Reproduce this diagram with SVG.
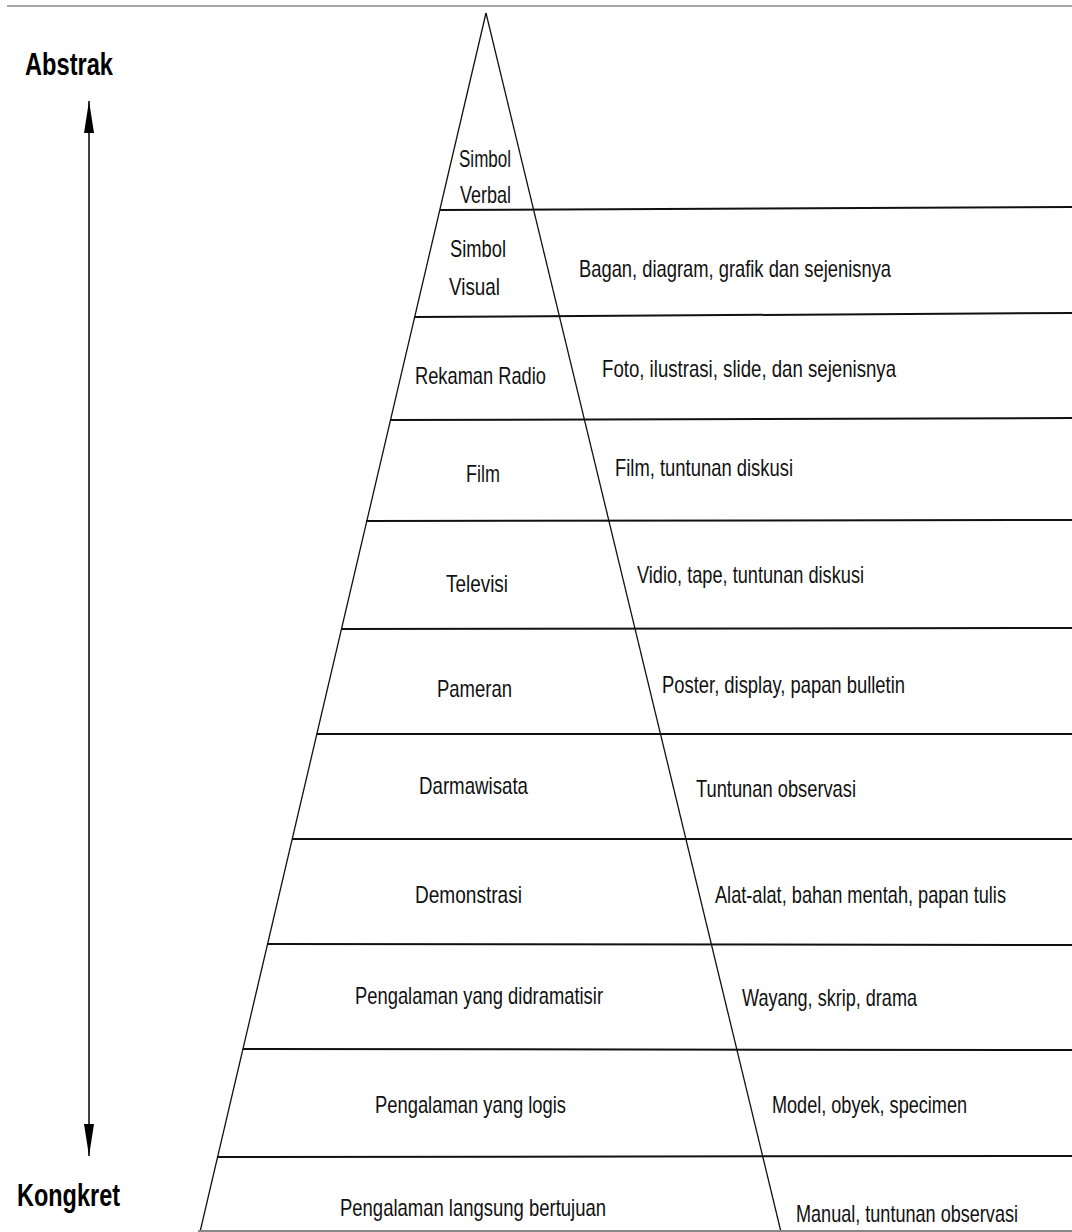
<svg xmlns="http://www.w3.org/2000/svg" width="1072" height="1232" viewBox="0 0 1072 1232">
<style>
  .lbl { font-family: "Liberation Sans", Arial, sans-serif; font-size: 24px; fill: #111; }
  .big { font-family: "Liberation Sans", Arial, sans-serif; font-size: 31px; font-weight: bold; fill: #000; }
  .edge { stroke: #111; stroke-width: 1.3; fill: none; }
  .sep { stroke: #111; stroke-width: 2; fill: none; }
</style>
<defs>
  <marker id="ah" viewBox="0 0 32 10" refX="32" refY="5" markerWidth="32" markerHeight="10" markerUnits="userSpaceOnUse" orient="auto">
    <path d="M0,0 L32,5 L0,10 Z" fill="#000"/>
  </marker>
</defs>
<rect x="0" y="0" width="1072" height="1232" fill="#fff"/>
<line x1="7" y1="6" x2="1072" y2="6" stroke="#a8a8a8" stroke-width="2"/>

<g id="pyramid">
  <line class="edge" x1="486" y1="13" x2="200" y2="1232"/>
  <line class="edge" x1="486" y1="13" x2="781" y2="1232"/>
  <line x1="198" y1="1231" x2="1072" y2="1231" stroke="#888" stroke-width="2"/>
</g>

<g id="level-simbol-verbal">
  <text class="lbl" x="459" y="167" textLength="52" lengthAdjust="spacingAndGlyphs">Simbol</text>
  <text class="lbl" x="460" y="203" textLength="51" lengthAdjust="spacingAndGlyphs">Verbal</text>
  <line class="sep" x1="440" y1="210" x2="1072" y2="207"/>
</g>
<g id="level-simbol-visual">
  <text class="lbl" x="450" y="257" textLength="56" lengthAdjust="spacingAndGlyphs">Simbol</text>
  <text class="lbl" x="449" y="295" textLength="51" lengthAdjust="spacingAndGlyphs">Visual</text>
  <text class="lbl" x="579" y="277" textLength="312" lengthAdjust="spacingAndGlyphs">Bagan, diagram, grafik dan sejenisnya</text>
  <line class="sep" x1="414" y1="317" x2="1072" y2="313"/>
</g>
<g id="level-rekaman-radio">
  <text class="lbl" x="415" y="384" textLength="131" lengthAdjust="spacingAndGlyphs">Rekaman Radio</text>
  <text class="lbl" x="602" y="377" textLength="294" lengthAdjust="spacingAndGlyphs">Foto, ilustrasi, slide, dan sejenisnya</text>
  <line class="sep" x1="390" y1="420" x2="1072" y2="418"/>
</g>
<g id="level-film">
  <text class="lbl" x="466" y="482" textLength="34" lengthAdjust="spacingAndGlyphs">Film</text>
  <text class="lbl" x="615" y="476" textLength="178" lengthAdjust="spacingAndGlyphs">Film, tuntunan diskusi</text>
  <line class="sep" x1="366" y1="521" x2="1072" y2="520"/>
</g>
<g id="level-televisi">
  <text class="lbl" x="446" y="592" textLength="62" lengthAdjust="spacingAndGlyphs">Televisi</text>
  <text class="lbl" x="637" y="583" textLength="227" lengthAdjust="spacingAndGlyphs">Vidio, tape, tuntunan diskusi</text>
  <line class="sep" x1="341" y1="629" x2="1072" y2="628"/>
</g>
<g id="level-pameran">
  <text class="lbl" x="437" y="697" textLength="75" lengthAdjust="spacingAndGlyphs">Pameran</text>
  <text class="lbl" x="662" y="693" textLength="243" lengthAdjust="spacingAndGlyphs">Poster, display, papan bulletin</text>
  <line class="sep" x1="317" y1="734" x2="1072" y2="734"/>
</g>
<g id="level-darmawisata">
  <text class="lbl" x="419" y="794" textLength="109" lengthAdjust="spacingAndGlyphs">Darmawisata</text>
  <text class="lbl" x="696" y="797" textLength="160" lengthAdjust="spacingAndGlyphs">Tuntunan observasi</text>
  <line class="sep" x1="292" y1="839" x2="1072" y2="839"/>
</g>
<g id="level-demonstrasi">
  <text class="lbl" x="415" y="903" textLength="107" lengthAdjust="spacingAndGlyphs">Demonstrasi</text>
  <text class="lbl" x="715" y="903" textLength="291" lengthAdjust="spacingAndGlyphs">Alat-alat, bahan mentah, papan tulis</text>
  <line class="sep" x1="267" y1="944" x2="1072" y2="945"/>
</g>
<g id="level-didramatisir">
  <text class="lbl" x="355" y="1004" textLength="248" lengthAdjust="spacingAndGlyphs">Pengalaman yang didramatisir</text>
  <text class="lbl" x="742" y="1006" textLength="175" lengthAdjust="spacingAndGlyphs">Wayang, skrip, drama</text>
  <line class="sep" x1="243" y1="1049" x2="1072" y2="1050"/>
</g>
<g id="level-logis">
  <text class="lbl" x="375" y="1113" textLength="191" lengthAdjust="spacingAndGlyphs">Pengalaman yang logis</text>
  <text class="lbl" x="772" y="1113" textLength="195" lengthAdjust="spacingAndGlyphs">Model, obyek, specimen</text>
  <line class="sep" x1="217" y1="1157" x2="1072" y2="1156"/>
</g>
<g id="level-langsung">
  <text class="lbl" x="340" y="1216" textLength="266" lengthAdjust="spacingAndGlyphs">Pengalaman langsung bertujuan</text>
  <text class="lbl" x="796" y="1222" textLength="222" lengthAdjust="spacingAndGlyphs">Manual, tuntunan observasi</text>
</g>

<g id="label-abstrak">
  <text class="big" x="25" y="75" textLength="88" lengthAdjust="spacingAndGlyphs">Abstrak</text>
</g>
<g id="label-kongkret">
  <text class="big" x="17" y="1206" textLength="103" lengthAdjust="spacingAndGlyphs">Kongkret</text>
</g>

<g id="connectors">
  <line x1="89" y1="628" x2="89" y2="101" stroke="#000" stroke-width="1.5" marker-end="url(#ah)"/>
  <line x1="89" y1="628" x2="89" y2="1156" stroke="#000" stroke-width="1.5" marker-end="url(#ah)"/>
</g>
</svg>
